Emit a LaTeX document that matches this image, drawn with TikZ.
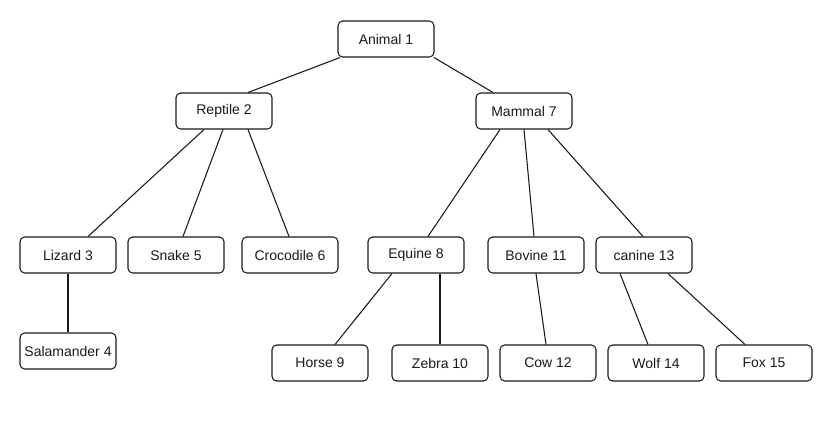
\documentclass[tikz,border=0pt]{standalone}
\usepackage{fontspec}
\setmainfont{Liberation Sans}
\usetikzlibrary{calc}
\definecolor{lnclr}{HTML}{1A1A1A}
\definecolor{txclr}{HTML}{1A1A1A}

\tikzset{
  box/.style={draw=lnclr, line width=0.8pt, rounded corners=3.5pt, fill=white,
    minimum width=72pt, minimum height=27pt, inner xsep=1pt,
    text=txclr, font=\fontsize{10.5}{12}\selectfont},
  link/.style={lnclr, line width=0.8pt}
}

\begin{document}
\begin{tikzpicture}[x=0.75pt, y=-0.75pt]

% canvas
\useasboundingbox (0,0) rectangle (832,432);

% level 1
\node[box] (ani) at (386,39) {Animal 1};

% level 2
\node[box] (rep) at (224,111) {Reptile 2};
\node[box] (mam) at (524,111) {Mammal 7};

% level 3
\node[box] (liz) at (68,255)  {Lizard 3};
\node[box] (sna) at (176,255) {Snake 5};
\node[box] (cro) at (290,255) {Crocodile 6};
\node[box] (equ) at (416,255) {Equine 8};
\node[box] (bov) at (536,255) {Bovine 11};
\node[box] (can) at (644,255) {canine 13};

% level 4
\node[box] (sal) at (68,351)  {Salamander 4};
\node[box] (hor) at (320,363) {Horse 9};
\node[box] (zeb) at (440,363) {Zebra 10};
\node[box] (cow) at (548,363) {Cow 12};
\node[box] (wol) at (656,363) {Wolf 14};
\node[box] (fox) at (764,363) {Fox 15};

% links
\draw[link] ($(ani.south)+(-46,0)$) -- ($(rep.north)+(24,0)$);
\draw[link] ($(ani.south)+(48,0)$)  -- ($(mam.north)+(-31,0)$);

\draw[link] ($(rep.south)+(-20,0)$) -- ($(liz.north)+(20,0)$);
\draw[link] ($(rep.south)+(-1,0)$)  -- ($(sna.north)+(7,0)$);
\draw[link] ($(rep.south)+(24,0)$)  -- ($(cro.north)+(-1,0)$);

\draw[link] ($(mam.south)+(-24,0)$) -- ($(equ.north)+(12,0)$);
\draw[link] (mam.south)             -- ($(bov.north)+(-2,0)$);
\draw[link] ($(mam.south)+(24,0)$)  -- ($(can.north)+(-1,0)$);

\draw[link] (liz.south) -- (sal.north);

\draw[link] ($(equ.south)+(-24,0)$) -- ($(hor.north)+(15,0)$);
\draw[link] ($(equ.south)+(24,0)$)  -- (zeb.north);
\draw[link] (bov.south)             -- ($(cow.north)+(-2,0)$);
\draw[link] ($(can.south)+(-24,0)$) -- ($(wol.north)+(-8,0)$);
\draw[link] ($(can.south)+(24,0)$)  -- ($(fox.north)+(-19,0)$);

\end{tikzpicture}
\end{document}
